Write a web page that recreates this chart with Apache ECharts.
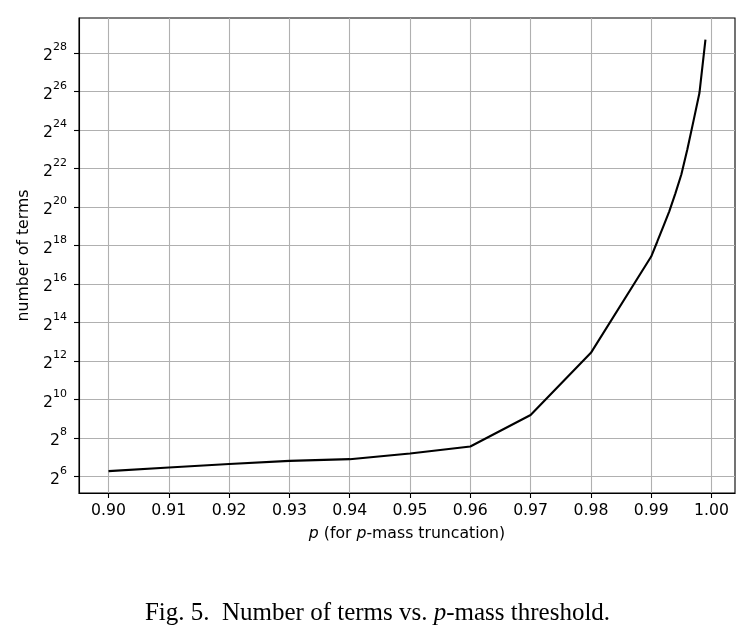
<!DOCTYPE html>
<html>
<head>
<meta charset="utf-8">
<script src="https://cdn.jsdelivr.net/npm/echarts@6/dist/echarts.min.js"></script>
<style>
  html, body { margin: 0; padding: 0; background: #fff; }
  #chart { width: 755px; height: 642px; }
</style>
</head>
<body>
<div id="chart"></div>
<script>
// p thresholds and the number of terms kept
var pValues = [0.90, 0.91, 0.92, 0.93, 0.94, 0.95, 0.96, 0.97, 0.98, 0.99,
  0.991, 0.992, 0.993, 0.994, 0.995, 0.996, 0.997, 0.998, 0.999];
var numTerms = [78, 89, 101, 113, 120, 147, 189, 588, 5518, 176600,
  301100, 520700, 900300, 1703400, 3383400, 8388600, 22918000, 63490000, 436200000];

// tick labels
var xTicks = [0.90, 0.91, 0.92, 0.93, 0.94, 0.95, 0.96, 0.97, 0.98, 0.99, 1.00];
var yExponents = [6, 8, 10, 12, 14, 16, 18, 20, 22, 24, 26, 28];

var yTicks = yExponents.map(function (e) { return Math.pow(2, e); });
var seriesData = pValues.map(function (p, i) { return [p, numTerms[i]]; });

var FONT = 'DejaVu Sans';
var FS = 15.7;
var chart = echarts.init(document.getElementById('chart'));

chart.setOption({
  backgroundColor: '#fff',
  animation: false,
  grid: {
    left: 79, right: 20, top: 18, bottom: 149,
    show: true, borderColor: '#000', borderWidth: 1.1
  },
  xAxis: {
    type: 'value',
    min: 0.8951,
    max: 1.0039,
    name: '{i|p} (for {i|p}-mass truncation)',
    nameLocation: 'middle',
    nameGap: 33,
    nameTextStyle: {
      color: '#000', fontFamily: FONT, fontSize: FS,
      rich: { i: { fontStyle: 'italic', fontFamily: FONT, fontSize: FS, color: '#000' } }
    },
    axisLine: { show: true, onZero: false, lineStyle: { color: '#000', width: 1.1 } },
    axisTick: { show: true, length: 5, customValues: xTicks, lineStyle: { color: '#000', width: 1.1 } },
    axisLabel: {
      customValues: xTicks, margin: 10, color: '#000', fontFamily: FONT, fontSize: FS,
      formatter: function (v) { return v.toFixed(2); }
    },
    splitLine: { show: true, lineStyle: { color: '#b0b0b0', width: 1.1 } }
  },
  yAxis: {
    type: 'log',
    logBase: 2,
    min: Math.pow(2, 5.15),
    max: Math.pow(2, 29.82),
    name: 'number of terms',
    nameLocation: 'middle',
    nameGap: 42,
    nameTextStyle: { color: '#000', fontFamily: FONT, fontSize: FS },
    axisLine: { show: true, onZero: false, lineStyle: { color: '#000', width: 1.1 } },
    axisTick: { show: true, length: 5, customValues: yTicks, lineStyle: { color: '#000', width: 1.1 } },
    axisLabel: {
      customValues: yTicks, margin: 12, color: '#000',
      formatter: function (v) {
        return '{b|2}{s|' + Math.round(Math.log2(v)) + '}';
      },
      rich: {
        b: { fontFamily: FONT, fontSize: FS, color: '#000', lineHeight: 22, verticalAlign: 'bottom' },
        s: { fontFamily: FONT, fontSize: 11, color: '#000', lineHeight: 22, verticalAlign: 'top' }
      }
    },
    splitLine: { show: true, lineStyle: { color: '#b0b0b0', width: 1.1 } }
  },
  series: [{
    type: 'line',
    data: seriesData,
    showSymbol: false,
    smooth: false,
    lineStyle: { color: '#000', width: 2.1 },
    itemStyle: { color: '#000' }
  }],
  graphic: [{
    type: 'text',
    left: 'center',
    top: 601,
    style: {
      text: 'Fig. 5.  Number of terms vs. {i|p}-mass threshold.',
      fontFamily: 'Liberation Serif',
      fontSize: 25,
      fill: '#000',
      rich: { i: { fontStyle: 'italic', fontFamily: 'Liberation Serif', fontSize: 25, fill: '#000' } }
    }
  }]
});
</script>
</body>
</html>
